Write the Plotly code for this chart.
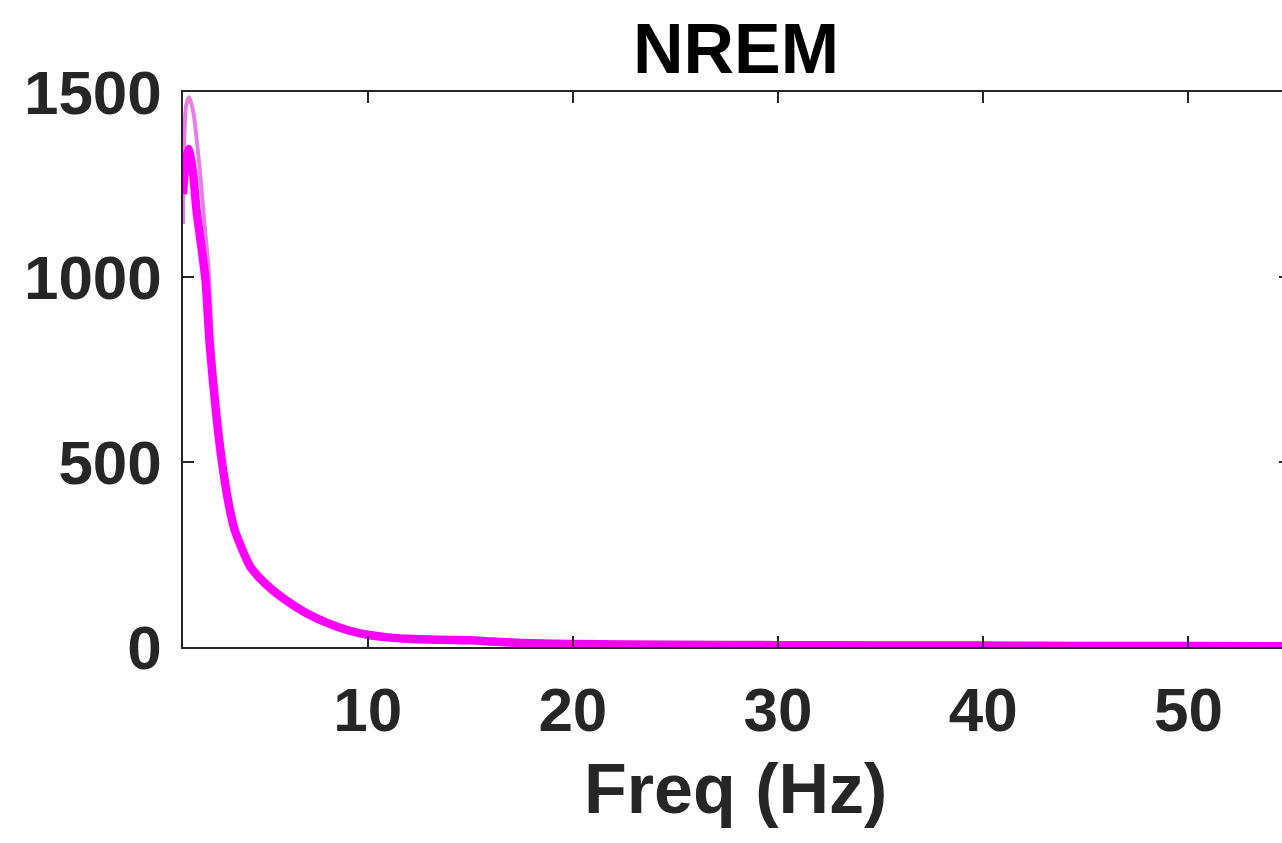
import plotly.graph_objects as go

# Frequency (Hz) and power values
freq_main = [1.0, 1.1, 1.26, 1.4, 1.5, 1.67, 1.9, 2.1, 2.3, 2.6, 2.9, 3.2, 3.5, 3.9,
             4.3, 5.0, 6.0, 7.0, 8.0, 9.0, 10.0, 11.0, 12.0, 13.0, 14.0, 15.0, 16.0,
             17.0, 18.0, 20.0, 25.0, 30.0, 35.0, 40.0, 45.0, 50.0, 55.0]
power_main = [1224, 1300, 1346, 1315, 1275, 1175, 1080, 990, 820, 640, 500, 395, 320, 262,
              215, 172, 127, 92, 66, 46, 33, 26, 22, 20, 19, 18, 15,
              12, 10, 8, 6, 5, 4, 4, 3, 3, 2]

freq_alt = [1.0, 1.05, 1.15, 1.3, 1.5, 1.7, 1.86, 2.07, 2.25, 2.4, 2.6, 2.9, 3.2, 3.5,
            3.9, 4.3, 5.0, 6.0, 7.0, 8.0, 9.0, 10.0, 12.0, 15.0, 18.0, 20.0, 30.0,
            40.0, 50.0, 55.0]
power_alt = [1143, 1355, 1463, 1486, 1446, 1355, 1265, 1129, 1020, 830, 670, 515, 402, 328,
             270, 224, 177, 129, 93, 66, 46, 33, 22, 17, 10, 8, 5,
             4, 3, 2]

x_ticks = [10, 20, 30, 40, 50]
y_ticks = [0, 500, 1000, 1500]
x_range = [1, 54.56]
y_range = [0, 1500]

AX = "#262626"
FONT = "Liberation Sans"

fig = go.Figure()
fig.add_trace(go.Scatter(x=freq_alt, y=power_alt, mode="lines",
                         line=dict(color="#E77DE6", width=4, shape="spline", smoothing=0.6),
                         hoverinfo="skip", showlegend=False))
fig.add_trace(go.Scatter(x=freq_main, y=power_main, mode="lines",
                         line=dict(color="#FF00FF", width=8.5, shape="spline", smoothing=0.6),
                         showlegend=False))
# invisible trace to carry the right-side tick axis
fig.add_trace(go.Scatter(x=freq_main, y=power_main, mode="lines", yaxis="y2",
                         line=dict(color="rgba(0,0,0,0)", width=0), hoverinfo="skip",
                         showlegend=False))

fig.update_layout(
    width=1282, height=843,
    margin=dict(l=183, r=0, t=92, b=196),
    paper_bgcolor="white", plot_bgcolor="white",
    xaxis=dict(range=x_range, tickvals=x_ticks, ticks="inside", ticklen=11, tickwidth=1.5,
               tickcolor=AX, showline=True, linecolor=AX, linewidth=1.5, mirror="ticks",
               showgrid=False, zeroline=False,
               tickfont=dict(family=FONT, size=62, color=AX, weight="bold"),
               ticklabelstandoff=8),
    yaxis=dict(range=y_range, tickvals=y_ticks, ticks="inside", ticklen=11, tickwidth=1.5,
               tickcolor=AX, showline=True, linecolor=AX, linewidth=1.5, mirror=False,
               showgrid=False, zeroline=False,
               tickfont=dict(family=FONT, size=62, color=AX, weight="bold"),
               ticklabelstandoff=7),
    yaxis2=dict(range=y_range, tickvals=y_ticks, overlaying="y", side="right",
                ticks="inside", ticklen=3, tickwidth=1.5, tickcolor=AX,
                showticklabels=False, showline=False, showgrid=False, zeroline=False),
    annotations=[
        dict(text="NREM", x=0.503, y=1 + (92 - 49) / 555, xref="paper", yref="paper",
             xanchor="center", yanchor="middle", showarrow=False,
             font=dict(family=FONT, size=70, color="black", weight="bold")),
        dict(text="Freq (Hz)", x=0.503, y=-(789 - 647) / 555, xref="paper", yref="paper",
             xanchor="center", yanchor="middle", showarrow=False,
             font=dict(family=FONT, size=70, color=AX, weight="bold")),
    ],
)

fig.write_html("out.html")
